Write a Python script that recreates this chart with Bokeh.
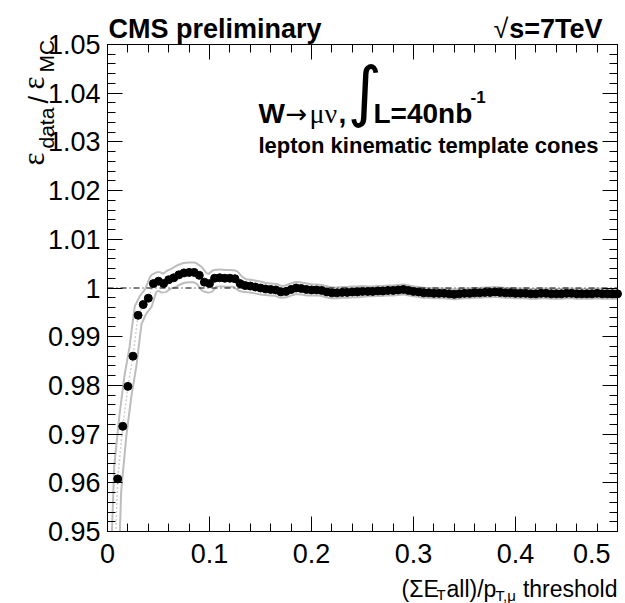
import math
from bokeh.plotting import figure
from bokeh.models import (Label, LinearAxis, SingleIntervalTicker, Range1d,
                          ColumnDataSource, CustomJSTickFormatter)
from bokeh.embed import file_html
from bokeh.resources import INLINE

# ---------------- data ----------------
threshold = [0.005, 0.010, 0.015, 0.020, 0.025, 0.030, 0.035, 0.040, 0.045, 0.050,
             0.055, 0.060, 0.065, 0.070, 0.075, 0.080, 0.085, 0.090, 0.095, 0.100,
             0.105, 0.110, 0.115, 0.120, 0.125, 0.130, 0.135, 0.140, 0.145, 0.150,
             0.155, 0.160, 0.165, 0.170, 0.175, 0.180, 0.185, 0.190, 0.195, 0.200,
             0.205, 0.210, 0.215, 0.220, 0.225, 0.230, 0.235, 0.240, 0.245, 0.250,
             0.255, 0.260, 0.265, 0.270, 0.275, 0.280, 0.285, 0.290, 0.295, 0.300,
             0.305, 0.310, 0.315, 0.320, 0.325, 0.330, 0.335, 0.340, 0.345, 0.350,
             0.355, 0.360, 0.365, 0.370, 0.375, 0.380, 0.385, 0.390, 0.395, 0.400,
             0.405, 0.410, 0.415, 0.420, 0.425, 0.430, 0.435, 0.440, 0.445, 0.450,
             0.455, 0.460, 0.465, 0.470, 0.475, 0.480, 0.485, 0.490, 0.495, 0.500]

ratio = [0.9300, 0.9608, 0.9716, 0.9798, 0.9860, 0.9944, 0.9966, 0.9979, 1.0009, 1.0014,
         1.0009, 1.0017, 1.0021, 1.0027, 1.0031, 1.0032, 1.0032, 1.0026, 1.0012, 1.0009,
         1.0020, 1.0021, 1.0020, 1.0020, 1.0019, 1.0009, 1.0005, 1.0004, 1.0002, 1.0000,
         0.9998, 0.9997, 0.9996, 0.9992, 0.9993, 0.9997, 1.0000, 0.9999, 0.9997, 0.9996,
         0.9996, 0.9995, 0.9992, 0.9990, 0.9990, 0.9991, 0.9991, 0.9992, 0.9992, 0.9993,
         0.9993, 0.9993, 0.9994, 0.9994, 0.9995, 0.9995, 0.9996, 0.9997, 0.9995, 0.9993,
         0.9992, 0.9990, 0.9990, 0.9989, 0.9989, 0.9989, 0.9988, 0.9987, 0.9988, 0.9989,
         0.9989, 0.9990, 0.9990, 0.9991, 0.9991, 0.9992, 0.9991, 0.9990, 0.9990, 0.9989,
         0.9989, 0.9989, 0.9988, 0.9988, 0.9989, 0.9989, 0.9988, 0.9988, 0.9988, 0.9989,
         0.9989, 0.9988, 0.9988, 0.9988, 0.9988, 0.9989, 0.9988, 0.9988, 0.9988, 0.9988]

syst = [0.0030, 0.0025, 0.0020, 0.0020, 0.0018, 0.0016, 0.0015, 0.0015, 0.0012, 0.0012,
        0.0012, 0.0012, 0.0013, 0.0013, 0.0013, 0.0013, 0.0013, 0.0012, 0.0012, 0.0012,
        0.0010, 0.0010, 0.0010, 0.0010, 0.0010, 0.0008, 0.0006, 0.0006, 0.0006, 0.0006,
        0.0005, 0.0005, 0.0005, 0.0005, 0.0005, 0.0005, 0.0005, 0.0005, 0.0005, 0.0004,
        0.0004, 0.0004, 0.0004, 0.0004, 0.0004, 0.0004, 0.0004, 0.0004, 0.0004, 0.0004,
        0.0003, 0.0003, 0.0003, 0.0003, 0.0003, 0.0003, 0.0003, 0.0003, 0.0003, 0.0003,
        0.0003, 0.0003, 0.0003, 0.0003, 0.0003, 0.0003, 0.0003, 0.0003, 0.0003, 0.0003,
        0.0003, 0.0003, 0.0003, 0.0003, 0.0003, 0.0003, 0.0003, 0.0003, 0.0003, 0.0003,
        0.0003, 0.0003, 0.0003, 0.0003, 0.0003, 0.0003, 0.0003, 0.0003, 0.0003, 0.0003,
        0.0003, 0.0003, 0.0003, 0.0003, 0.0003, 0.0003, 0.0003, 0.0003, 0.0003, 0.0003]

REFERENCE = 1.0
X_RANGE = (0.0, 0.5)
Y_RANGE = (0.95, 1.05)

# ---------------- layout ----------------
# The plotting frame covers the whole canvas so that texts around the axes are
# not clipped; the axes are pinned at the edges of the data window.
W, H = 625, 603
BOX_L, BOX_R, BOX_T, BOX_B = 107, 617, 44, 531
XS = (BOX_R - BOX_L) / (X_RANGE[1] - X_RANGE[0])   # px per x unit
YS = (BOX_B - BOX_T) / (Y_RANGE[1] - Y_RANGE[0])   # px per y unit
x_full = (X_RANGE[0] - BOX_L / XS, X_RANGE[1] + (W - BOX_R) / XS)
y_full = (Y_RANGE[0] - (H - BOX_B) / YS, Y_RANGE[1] + BOX_T / YS)

SANS = "Liberation Sans"
SERIF = "Liberation Serif"
NBSP = "\u00a0"

p = figure(width=W, height=H, output_backend="svg", toolbar_location=None,
           x_range=Range1d(*x_full), y_range=Range1d(*y_full),
           min_border=0, x_axis_type=None, y_axis_type=None)
p.grid.visible = False
p.outline_line_color = None
p.background_fill_color = "white"
p.border_fill_color = "white"

def make_axis(side, interval, loc, bounds, labels=True):
    ax = LinearAxis(ticker=SingleIntervalTicker(interval=interval, num_minor_ticks=5),
                    fixed_location=loc, bounds=bounds)
    ax.major_tick_in = 15
    ax.major_tick_out = 0
    ax.minor_tick_in = 8
    ax.minor_tick_out = 0
    ax.axis_line_color = "black"
    ax.major_tick_line_color = "black"
    ax.minor_tick_line_color = "black"
    if labels:
        ax.major_label_text_font = SANS
        ax.major_label_text_font_size = "27px"
        ax.major_label_text_color = "black"
        ax.major_label_standoff = 7
    else:
        ax.formatter = CustomJSTickFormatter(code="return ''")
        ax.major_label_text_font_size = "1px"
        ax.major_label_standoff = 0
    p.add_layout(ax, side)
    return ax

xax = make_axis("below", 0.1, Y_RANGE[0], X_RANGE)
# keep the last label inside the canvas (as in the reference, it ends at the frame edge)
xax.major_label_overrides = {0.5: "0.5" + NBSP * 2}
make_axis("left", 0.01, X_RANGE[0], Y_RANGE)
make_axis("above", 0.1, Y_RANGE[1], X_RANGE, labels=False)
make_axis("right", 0.01, X_RANGE[1], Y_RANGE, labels=False)

lo = [r - e for r, e in zip(ratio, syst)]
hi = [r + e for r, e in zip(ratio, syst)]
src = ColumnDataSource(dict(x=threshold, y=ratio, lo=lo, hi=hi))

# systematic band (grey outlined, white interior)
p.line("x", "lo", source=src, line_color="#bdbdbd", line_width=9)
p.line("x", "hi", source=src, line_color="#bdbdbd", line_width=9)
p.varea(x="x", y1="lo", y2="hi", source=src, fill_color="white")
p.line("x", "lo", source=src, line_color="white", line_width=5)
p.line("x", "hi", source=src, line_color="white", line_width=5)
p.line("x", "y", source=src, line_color="#cfcfcf", line_width=1.5, line_dash="2 2")

# mask everything that falls below the data window
p.quad(left=x_full[0], right=x_full[1], bottom=y_full[0], top=Y_RANGE[0],
       fill_color="white", line_color=None)

# reference line at 1
p.line(x=list(X_RANGE), y=[REFERENCE, REFERENCE], line_color="black",
       line_width=1, line_dash="6 3 1 3")

# data points (only those inside the window)
inside = [i for i, r in enumerate(ratio) if Y_RANGE[0] <= r <= Y_RANGE[1]]
pts = ColumnDataSource(dict(x=[threshold[i] for i in inside], y=[ratio[i] for i in inside]))
p.scatter("x", "y", source=pts, size=8, fill_color="black", line_color="black")

def lab(px, py, text, size, font=SANS, style="normal", align="left", angle=0.0):
    p.add_layout(Label(x=px, y=py, x_units="canvas", y_units="canvas",
                       text=text, text_font=font,
                       text_font_size=f"{size}px", text_font_style=style,
                       text_align=align, text_baseline="alphabetic",
                       text_color="black", angle=angle))

# header
lab(108, 28, "CMS preliminary", 27, style="bold")
lab(493, 28, "\u221a", 27)
lab(602, 28, "s=7TeV", 27, style="bold", align="right")

# annotation
lab(258, 113, "W", 28, style="bold")
lab(285, 113, "\u2192", 26, font="DejaVu Sans")
lab(309, 113, "\u03bc\u03bd", 28, font=SERIF)
lab(338, 113, ",", 28, style="bold")
lab(347, 91, "\u222b", 66, font="DejaVu Sans")
lab(373, 113, "L=40nb", 28, style="bold")
lab(470, 96, "-1", 17, style="bold")
lab(258, 145, "lepton kinematic template cones", 22, style="bold")

# y axis title (rotated)
ROT = math.pi / 2
lab(33, 165, "\u03b5", 31, font=SERIF, angle=ROT)
lab(46, 148, "data", 21, angle=ROT)
lab(38, 103, "/", 27, angle=ROT)
lab(33, 89, "\u03b5", 31, font=SERIF, angle=ROT)
lab(46, 72, "MC", 21, angle=ROT)

# x axis title
lab(401, 588, "(\u03a3E", 23)
lab(436, 594, "T", 15)
lab(446, 588, "all)/p", 23)
lab(495, 595, "T,\u03bc", 15)
lab(617, 588, "threshold", 23, align="right")

open("out.html", "w").write(file_html(p, INLINE))
